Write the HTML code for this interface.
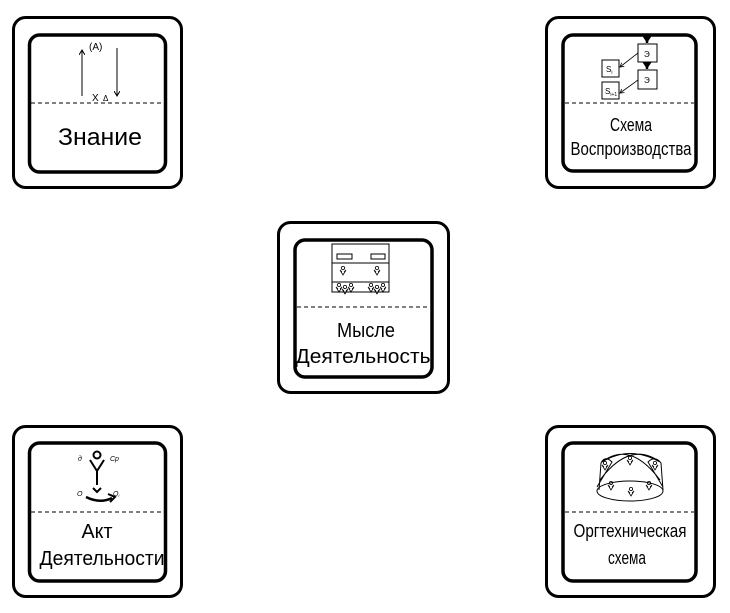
<!DOCTYPE html>
<html><head><meta charset="utf-8"><style>
html,body{margin:0;padding:0;background:#fff;width:730px;height:613px;overflow:hidden}
text{font-family:"Liberation Sans","DejaVu Sans",sans-serif;fill:#000}
</style></head><body>
<svg width="730" height="613" viewBox="0 0 730 613" xmlns="http://www.w3.org/2000/svg">
<defs>
<marker id="a" markerWidth="6" markerHeight="6" refX="5" refY="3" orient="auto"><path d="M0,0 L5,3 L0,6" fill="none" stroke="#000" stroke-width="1"/></marker>
<marker id="b" markerWidth="4" markerHeight="4" refX="3" refY="2" orient="auto"><path d="M0,0 L3,2 L0,4 Z" fill="#000"/></marker>
<g id="man"><circle cx="0" cy="-3" r="1.6" fill="none" stroke="#000" stroke-width="0.8"/><path d="M-3,-1 L0,4 L3,-1 M-3,-1 L-1,1 M3,-1 L1,1" fill="none" stroke="#000" stroke-width="0.8"/></g>
</defs>
<g fill="none" stroke="#000">
<rect x="13.5" y="17.5" width="168" height="170" rx="12" stroke-width="3"/>
<rect x="29.5" y="35" width="136" height="137" rx="10" stroke-width="3.5"/>
<rect x="546.5" y="17.5" width="168" height="170" rx="12" stroke-width="3"/>
<rect x="563" y="35" width="133" height="136" rx="10" stroke-width="3.5"/>
<rect x="278.5" y="222.5" width="170" height="170" rx="12" stroke-width="3"/>
<rect x="295" y="240" width="137" height="137" rx="10" stroke-width="3.5"/>
<rect x="13.5" y="426.5" width="168" height="170" rx="12" stroke-width="3"/>
<rect x="29.5" y="443" width="136" height="138" rx="10" stroke-width="3.5"/>
<rect x="546.5" y="426.5" width="168" height="170" rx="12" stroke-width="3"/>
<rect x="563" y="443" width="133" height="138" rx="10" stroke-width="3.5"/>
<g stroke-width="1" stroke-dasharray="4,3">
<line x1="31" y1="103" x2="164" y2="103"/>
<line x1="565" y1="103" x2="694" y2="103"/>
<line x1="297" y1="307" x2="430" y2="307"/>
<line x1="31" y1="512" x2="164" y2="512"/>
<line x1="565" y1="512" x2="694" y2="512"/>
</g>
<line x1="82" y1="96" x2="82" y2="50" stroke-width="1" marker-end="url(#a)"/>
<line x1="117" y1="48" x2="117" y2="96" stroke-width="1" marker-end="url(#a)"/>
<line x1="647" y1="36" x2="647" y2="43" stroke-width="2.5" marker-end="url(#b)"/>
<line x1="647" y1="62" x2="647" y2="69" stroke-width="2.5" marker-end="url(#b)"/>
<rect x="638" y="44" width="19" height="18" stroke-width="1"/>
<rect x="638" y="70" width="19" height="19" stroke-width="1"/>
<rect x="602" y="60" width="17" height="17" stroke-width="1"/>
<rect x="602" y="82" width="17" height="17" stroke-width="1"/>
<line x1="638" y1="53" x2="620" y2="67" stroke-width="0.8" marker-end="url(#a)"/>
<line x1="638" y1="80" x2="620" y2="93" stroke-width="0.8" marker-end="url(#a)"/>
<rect x="332" y="244" width="57" height="48" stroke-width="1"/>
<line x1="332" y1="263" x2="389" y2="263" stroke-width="1"/>
<line x1="332" y1="282" x2="389" y2="282" stroke-width="1"/>
<rect x="337" y="254" width="15" height="5" stroke-width="1"/>
<rect x="371" y="254" width="14" height="5" stroke-width="1"/>
<circle cx="97" cy="455" r="3.5" stroke-width="2"/>
<path d="M90,460 L97,471 L104,460 M97,471 L97,485" stroke-width="2"/>
<path d="M93,488 L97,492 L101,488" stroke-width="2"/>
<path d="M86,497 Q100,504 112,498" stroke-width="2.5"/>
<path d="M108,494 L115,497 L110,502" stroke-width="2"/>
<ellipse cx="630" cy="491" rx="33" ry="10" stroke-width="1"/>
<path d="M599,490 L601,463 Q605,455 612,462 L597,487 M663,490 L661,463 Q655,455 648,462 L663,487 M602,462 Q630,445 660,462 M600,480 Q630,440 660,462 M602,462 Q630,440 660,480" stroke-width="1"/>
</g>
<use href="#man" x="343" y="271"/><use href="#man" x="377" y="271"/>
<use href="#man" x="339" y="288"/><use href="#man" x="345" y="290"/><use href="#man" x="351" y="288"/>
<use href="#man" x="371" y="288"/><use href="#man" x="377" y="290"/><use href="#man" x="383" y="288"/>
<use href="#man" x="605" y="466"/><use href="#man" x="630" y="461"/><use href="#man" x="655" y="466"/>
<use href="#man" x="611" y="486"/><use href="#man" x="649" y="486"/><use href="#man" x="631" y="492"/>
<text x="89" y="50" font-size="10">(A)</text>
<text x="92" y="101" font-size="10">X</text>
<text x="103" y="101" font-size="8">Δ</text>
<text x="644" y="57" font-size="8">Э</text>
<text x="644" y="83" font-size="8">Э</text>
<text x="606" y="72" font-size="8">S<tspan font-size="5" dy="2">i</tspan></text>
<text x="605" y="94" font-size="8">S<tspan font-size="5" dy="2">i+1</tspan></text>
<text x="78" y="461" font-size="7" font-style="italic">д</text>
<text x="110" y="461" font-size="7" font-style="italic">Ср</text>
<text x="77" y="496" font-size="7" font-style="italic">O</text>
<text x="113" y="496" font-size="7" font-style="italic">O<tspan font-size="4" dy="1">i</tspan></text>
<g text-anchor="middle">
<text x="100" y="145" font-size="24" textLength="84" lengthAdjust="spacingAndGlyphs">Знание</text>
<text x="631" y="131" font-size="18" textLength="42" lengthAdjust="spacingAndGlyphs">Схема</text>
<text x="631" y="155" font-size="18" textLength="121" lengthAdjust="spacingAndGlyphs">Воспроизводства</text>
<text x="366" y="337" font-size="20" textLength="58" lengthAdjust="spacingAndGlyphs">Мысле</text>
<text x="363" y="363" font-size="20" textLength="135" lengthAdjust="spacingAndGlyphs">Деятельность</text>
<text x="97" y="538" font-size="20" textLength="31" lengthAdjust="spacingAndGlyphs">Акт</text>
<text x="102" y="565" font-size="20" textLength="125" lengthAdjust="spacingAndGlyphs">Деятельности</text>
<text x="630" y="537" font-size="18" textLength="113" lengthAdjust="spacingAndGlyphs">Оргтехническая</text>
<text x="627" y="564" font-size="18" textLength="38" lengthAdjust="spacingAndGlyphs">схема</text>
</g>
</svg>
</body></html>
